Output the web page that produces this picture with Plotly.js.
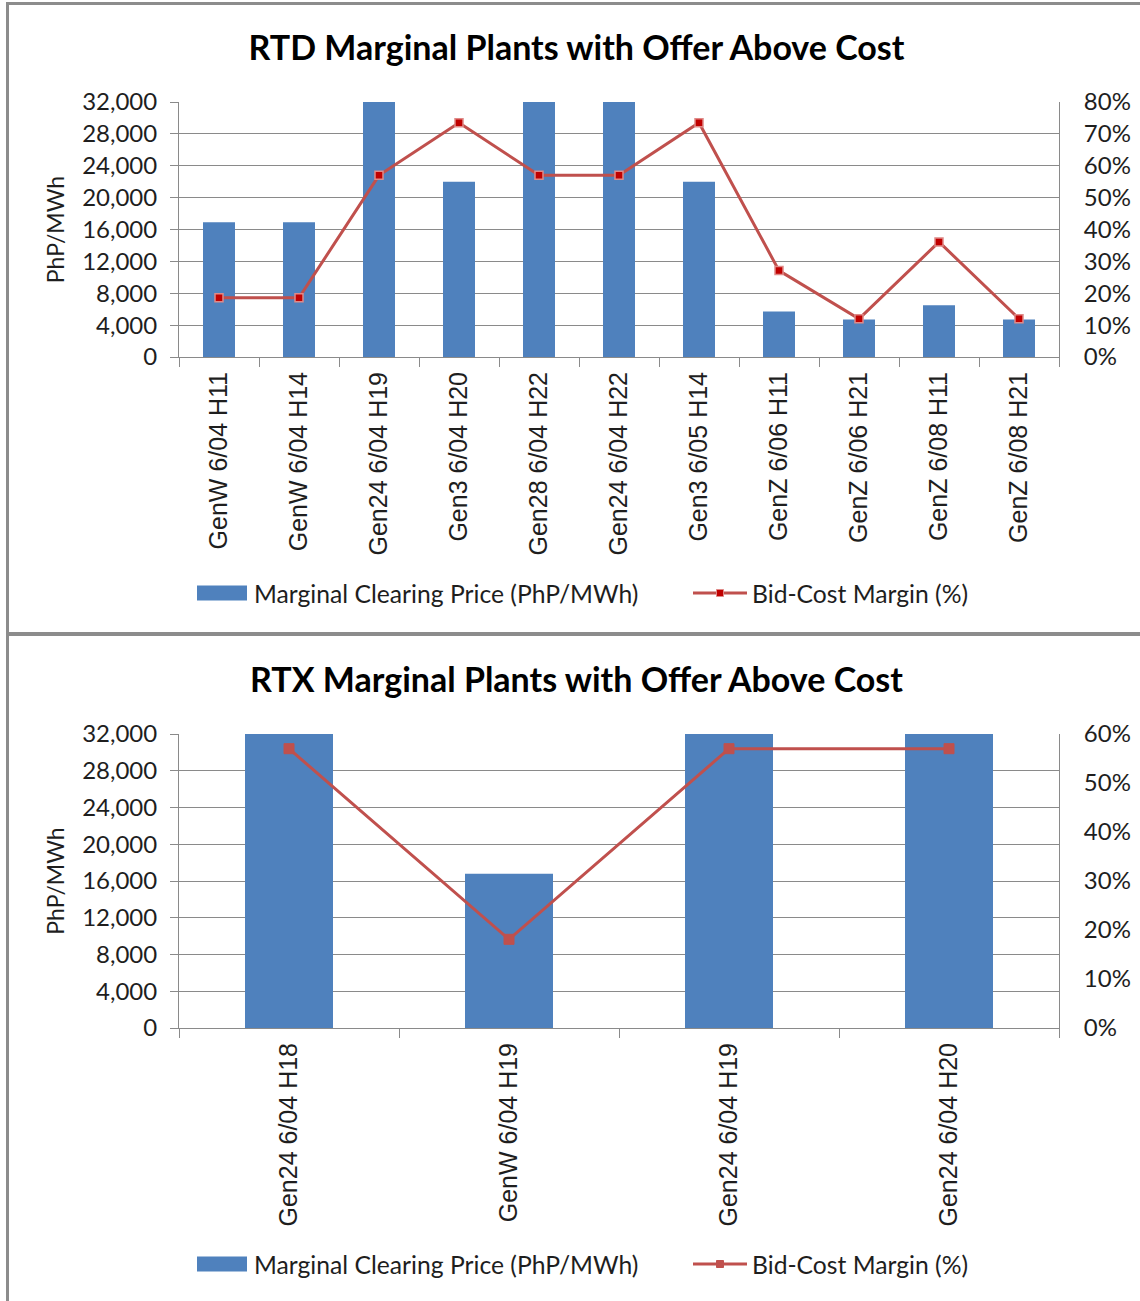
<!DOCTYPE html>
<html>
<head>
<meta charset="utf-8">
<script src="https://cdn.plot.ly/plotly-3.0.1.min.js"></script>
<style>
  html, body { margin: 0; padding: 0; background: #ffffff; }
  #wrap { position: relative; width: 1140px; height: 1301px; overflow: hidden; background: #ffffff; }
  #chartA { position: absolute; left: 0; top: 0; width: 1140px; height: 632px; }
  #chartB { position: absolute; left: 0; top: 632px; width: 1140px; height: 669px; }
  .bd { position: absolute; background: #8c8c8c; z-index: 10; pointer-events: none; }
</style>
</head>
<body>
<div id="wrap">
  <div id="chartA"></div>
  <div id="chartB"></div>
  <div class="bd" style="left:6px; top:2px; width:3px; height:1299px;"></div>
  <div class="bd" style="left:6px; top:2px; width:1134px; height:3px;"></div>
  <div class="bd" style="left:6px; top:632px; width:1134px; height:4px;"></div>
</div>
<script>
// ---------------- DATA ----------------
const rtdTitle = 'RTD Marginal Plants with Offer Above Cost';
const rtdCategories = ['GenW 6/04 H11', 'GenW 6/04 H14', 'Gen24 6/04 H19', 'Gen3 6/04 H20', 'Gen28 6/04 H22',
  'Gen24 6/04 H22', 'Gen3 6/05 H14', 'GenZ 6/06 H11', 'GenZ 6/06 H21', 'GenZ 6/08 H11', 'GenZ 6/08 H21'];
const rtdPrice = [16900, 16900, 32000, 22000, 32000, 32000, 22000, 5700, 4700, 6500, 4700];
const rtdMargin = [0.186, 0.186, 0.57, 0.735, 0.57, 0.57, 0.735, 0.271, 0.12, 0.361, 0.12];

const rtxTitle = 'RTX Marginal Plants with Offer Above Cost';
const rtxCategories = ['Gen24 6/04 H18', 'GenW 6/04 H19', 'Gen24 6/04 H19', 'Gen24 6/04 H20'];
const rtxPrice = [32000, 16800, 32000, 32000];
const rtxMargin = [0.57, 0.181, 0.57, 0.57];

const priceName = 'Marginal Clearing Price (PhP/MWh)';
const marginName = 'Bid-Cost Margin (%)';
const yTitle = 'PhP/MWh';
const priceTicks = [0, 4000, 8000, 12000, 16000, 20000, 24000, 28000, 32000];

// ---------------- STYLE ----------------
const BLUE = '#4F81BD';
const RED = '#C0504D';
const GRID = '#8a8a8a';
const TXT = '#1e1e1e';
const NUMFONT = 'Lato, "Open Sans", sans-serif';
const CATFONT = '"Liberation Sans", Arial, sans-serif';

const W = 1140;
const PL = 179, PR = 1059;

function build(divId, H, plotTop, plotBottom, title, cats, price, margin, marginMax, marginDtick, legendY, markerCfg) {
  const ph = plotBottom - plotTop;
  const px = v => (v - PL) / (PR - PL);
  const py = v => (plotBottom - v) / ph;

  const traces = [
    { type: 'bar', x: cats, y: price, name: priceName, marker: { color: BLUE }, yaxis: 'y', showlegend: false, hoverinfo: 'x+y' },
    { type: 'scatter', mode: 'lines+markers', x: cats, y: margin, name: marginName, yaxis: 'y2', showlegend: false,
      line: { color: RED, width: 3 },
      marker: { symbol: 'square', size: markerCfg.size, color: markerCfg.fill, line: { color: markerCfg.edge, width: markerCfg.edgeW } },
      cliponaxis: false }
  ];

  const lgTop = legendY - 7.5, lgBot = legendY + 7.5;
  const layout = {
    width: W, height: H,
    margin: { l: PL, r: W - PR, t: plotTop, b: H - plotBottom, pad: 0 },
    paper_bgcolor: 'rgba(0,0,0,0)', plot_bgcolor: '#ffffff',
    showlegend: false,
    bargap: 0.6,
    title: { text: '<b>' + title + '</b>', font: { family: NUMFONT, size: 34, color: '#000000' },
      xref: 'container', yref: 'container', x: 576.5 / W, xanchor: 'center', y: 1 - 48.5 / H, yanchor: 'middle' },
    xaxis: {
      type: 'category', range: [-0.5, cats.length - 0.5], tickangle: -90, tickson: 'boundaries', ticks: 'outside', ticklen: 9, tickwidth: 1, tickcolor: GRID,
      showline: true, linecolor: GRID, linewidth: 1, showgrid: false, zeroline: false,
      tickfont: { family: CATFONT, size: 25, color: TXT }, ticklabelstandoff: 4, automargin: false
    },
    yaxis: {
      range: [0, 32000], tickvals: priceTicks, tickformat: ',d', ticks: 'outside', ticklen: 8, tickcolor: GRID,
      showline: true, linecolor: GRID, linewidth: 1, showgrid: true, gridcolor: GRID, gridwidth: 1, zeroline: false,
      tickfont: { family: NUMFONT, size: 24, color: TXT }, ticklabelstandoff: 8, automargin: false,
      title: { text: yTitle, font: { family: NUMFONT, size: 23, color: TXT }, standoff: 11 }
    },
    yaxis2: {
      overlaying: 'y', side: 'right', range: [0, marginMax], dtick: marginDtick, tick0: 0, tickformat: '.0%',
      ticks: '', showline: true, linecolor: GRID, linewidth: 1, showgrid: false, zeroline: false,
      tickfont: { family: NUMFONT, size: 24, color: TXT }, ticklabelstandoff: 19, automargin: false
    },
    shapes: [
      { type: 'rect', xref: 'paper', yref: 'paper', x0: px(197), x1: px(247), y0: py(lgBot), y1: py(lgTop),
        fillcolor: BLUE, line: { width: 0 } },
      { type: 'line', xref: 'paper', yref: 'paper', x0: px(693), x1: px(747), y0: py(legendY), y1: py(legendY),
        line: { color: RED, width: 3 } },
      { type: 'rect', xref: 'paper', yref: 'paper', x0: px(716.5), x1: px(723.5), y0: py(legendY + 3.5), y1: py(legendY - 3.5),
        fillcolor: markerCfg.fill, line: { color: markerCfg.edge, width: 1 } }
    ],
    annotations: [
      { xref: 'paper', yref: 'paper', x: px(252), y: py(legendY), xanchor: 'left', yanchor: 'middle', showarrow: false,
        text: priceName, font: { family: NUMFONT, size: 24.7, color: TXT } },
      { xref: 'paper', yref: 'paper', x: px(750), y: py(legendY), xanchor: 'left', yanchor: 'middle', showarrow: false,
        text: marginName, font: { family: NUMFONT, size: 24.7, color: TXT } }
    ]
  };
  Plotly.newPlot(divId, traces, layout, { staticPlot: true, displayModeBar: false });
}

build('chartA', 632, 102, 357, rtdTitle, rtdCategories, rtdPrice, rtdMargin, 0.8, 0.1, 593,
  { size: 8, fill: '#C00000', edge: '#E08A88', edgeW: 1.5 });
build('chartB', 669, 102, 396, rtxTitle, rtxCategories, rtxPrice, rtxMargin, 0.6, 0.1, 632,
  { size: 10, fill: RED, edge: RED, edgeW: 1 });
</script>
</body>
</html>
